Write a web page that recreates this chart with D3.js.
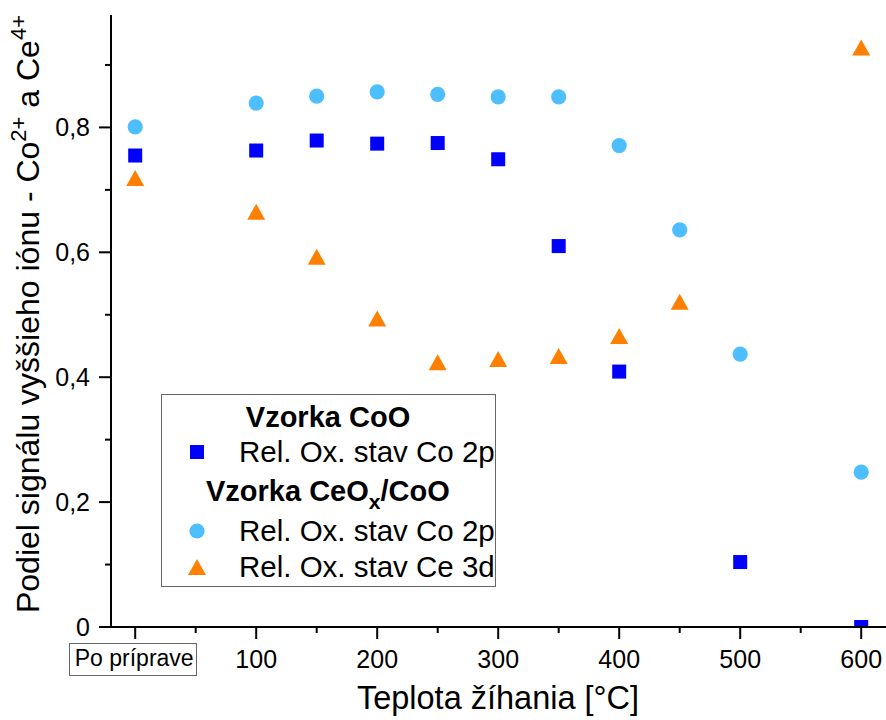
<!DOCTYPE html>
<html>
<head>
<meta charset="utf-8">
<script src="https://cdn.jsdelivr.net/npm/d3@7"></script>
<style>
  body { margin: 0; background: #fff; }
  text { font-family: "Liberation Sans", Arial, sans-serif; fill: #000; }
</style>
</head>
<body>
<svg id="svg1" width="886" height="720"></svg>
<script>
// data
const tempsCoO    = [0, 100, 150, 200, 250, 300, 350, 400, 500, 600];
const coO_Co2p    = [0.755, 0.763, 0.779, 0.774, 0.775, 0.749, 0.610, 0.409, 0.104, 0.0];
const tempsCeCo   = [0, 100, 150, 200, 250, 300, 350, 400, 450, 500, 600];
const ceCo_Co2p   = [0.801, 0.839, 0.850, 0.857, 0.853, 0.849, 0.849, 0.771, 0.636, 0.437, 0.248];
const tempsCe3d   = [0, 100, 150, 200, 250, 300, 350, 400, 450, 600];
const ceCo_Ce3d   = [0.719, 0.665, 0.593, 0.494, 0.424, 0.429, 0.434, 0.466, 0.521, 0.928];
const xTicks      = [0, 100, 200, 300, 400, 500, 600];
const xMinor      = [50, 150, 250, 350, 450, 550];
const yTicks      = [0, 0.2, 0.4, 0.6, 0.8];
const yMinor      = [0.1, 0.3, 0.5, 0.7, 0.9];

const svg = d3.select("#svg1"),
      x   = d3.scaleLinear().domain([-20, 620]).range([111, 885.4]),
      y   = d3.scaleLinear().domain([0, 0.98]).range([627, 15]);

const cBlue = "#0000ff", cLight = "#4dbeff", cOrange = "#ff8000";

svg.append("clipPath").attr("id", "plotclip")
  .append("rect").attr("x", 111).attr("y", 0).attr("width", 775).attr("height", 627);

const tri = (w, h) => `M0,${-h/2}L${w/2},${h/2}L${-w/2},${h/2}Z`;

const plot = svg.append("g").attr("clip-path", "url(#plotclip)");

// CeOx/CoO Co 2p circles
plot.selectAll(".circ")
  .data(tempsCeCo.map((t, i) => [t, ceCo_Co2p[i]]))
  .enter().append("circle")
    .attr("cx", d => x(d[0]))
    .attr("cy", d => y(d[1]))
    .attr("r", 7.6)
    .attr("fill", cLight);

// CoO squares
plot.selectAll(".sq")
  .data(tempsCoO.map((t, i) => [t, coO_Co2p[i]]))
  .enter().append("rect")
    .attr("x", d => x(d[0]) - 7)
    .attr("y", d => y(d[1]) - 7)
    .attr("width", 14)
    .attr("height", 14)
    .attr("fill", cBlue);

// Ce 3d triangles
plot.selectAll(".tri")
  .data(tempsCe3d.map((t, i) => [t, ceCo_Ce3d[i]]))
  .enter().append("path")
    .attr("transform", d => `translate(${x(d[0])},${y(d[1])})`)
    .attr("d", tri(18, 16))
    .attr("fill", cOrange);

// axes
const gx = svg.append("g").attr("transform", "translate(0,627)");
gx.append("line").attr("x1", 111).attr("x2", 886).attr("stroke", "#000").attr("stroke-width", 2);
gx.selectAll(".maj").data(xTicks).enter().append("line")
  .attr("x1", d => x(d)).attr("x2", d => x(d)).attr("y1", 0).attr("y2", 12)
  .attr("stroke", "#000").attr("stroke-width", 2);
gx.selectAll(".min").data(xMinor).enter().append("line")
  .attr("x1", d => x(d)).attr("x2", d => x(d)).attr("y1", 0).attr("y2", 6)
  .attr("stroke", "#000").attr("stroke-width", 2);
gx.selectAll(".lbl").data(xTicks.filter(d => d > 0)).enter().append("text")
  .attr("x", d => x(d)).attr("y", 41)
  .attr("text-anchor", "middle").style("font-size", "25px")
  .text(d => d);

// first category label in a box
gx.append("text")
  .attr("x", x(0) - 1).attr("y", 39)
  .attr("text-anchor", "middle").style("font-size", "23px")
  .text("Po príprave");
gx.append("rect")
  .attr("x", 69.5).attr("y", 16.5).attr("width", 127).attr("height", 32)
  .attr("fill", "none").attr("stroke", "#666").attr("stroke-width", 1);

const gy = svg.append("g");
gy.append("line").attr("x1", 111).attr("x2", 111).attr("y1", 15).attr("y2", 628)
  .attr("stroke", "#000").attr("stroke-width", 2);
gy.selectAll(".maj").data(yTicks).enter().append("line")
  .attr("x1", 99).attr("x2", 111).attr("y1", d => y(d)).attr("y2", d => y(d))
  .attr("stroke", "#000").attr("stroke-width", 2);
gy.selectAll(".min").data(yMinor).enter().append("line")
  .attr("x1", 105).attr("x2", 111).attr("y1", d => y(d)).attr("y2", d => y(d))
  .attr("stroke", "#000").attr("stroke-width", 2);
gy.selectAll(".lbl").data(yTicks).enter().append("text")
  .attr("x", 90).attr("y", d => y(d) + 9)
  .attr("text-anchor", "end").style("font-size", "25px")
  .text(d => d === 0 ? "0" : d3.format(".1f")(d).replace(".", ","));

// axis titles
svg.append("text")
  .attr("x", 498).attr("y", 709)
  .attr("text-anchor", "middle").style("font-size", "32.5px")
  .text("Teplota žíhania [°C]");

const yt = svg.append("text")
  .attr("transform", "translate(39,314) rotate(-90)")
  .attr("text-anchor", "middle").style("font-size", "32px");
yt.append("tspan").text("Podiel signálu vyššieho iónu - Co");
yt.append("tspan").attr("dy", -13).style("font-size", "22px").text("2+");
yt.append("tspan").attr("dy", 13).text(" a Ce");
yt.append("tspan").attr("dy", -13).style("font-size", "22px").text("4+");

// legend
const lg = svg.append("g");
lg.append("rect")
  .attr("x", 161.5).attr("y", 394.5).attr("width", 334).attr("height", 192)
  .attr("fill", "#fff").attr("stroke", "#666").attr("stroke-width", 1);

lg.append("text").attr("x", 328).attr("y", 427)
  .attr("text-anchor", "middle").style("font-size", "29px").style("font-weight", "bold")
  .text("Vzorka CoO");
const t2 = lg.append("text").attr("x", 206).attr("y", 501)
  .style("font-size", "29px").style("font-weight", "bold");
t2.append("tspan").text("Vzorka CeO");
t2.append("tspan").attr("dy", 8).style("font-size", "21px").text("x");
t2.append("tspan").attr("dy", -8).text("/CoO");

const legRows = [
  {y: 452, lab: "Rel. Ox. stav Co 2p", kind: "sq"},
  {y: 531, lab: "Rel. Ox. stav Co 2p", kind: "circ"},
  {y: 567, lab: "Rel. Ox. stav Ce 3d", kind: "tri"}
];
legRows.forEach(r => {
  if (r.kind === "sq") {
    lg.append("rect").attr("x", 190).attr("y", r.y - 7).attr("width", 14).attr("height", 14).attr("fill", cBlue);
  } else if (r.kind === "circ") {
    lg.append("circle").attr("cx", 197).attr("cy", r.y).attr("r", 7.6).attr("fill", cLight);
  } else {
    lg.append("path").attr("transform", `translate(197,${r.y})`).attr("d", tri(18, 16)).attr("fill", cOrange);
  }
  lg.append("text").attr("x", 239).attr("y", r.y + 10)
    .style("font-size", "29.5px").text(r.lab);
});
</script>
</body>
</html>
